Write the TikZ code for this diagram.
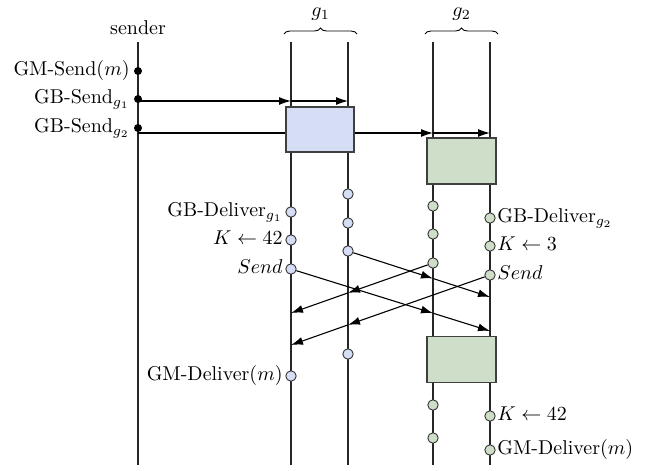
\documentclass[tikz,border=0pt]{standalone}
\usetikzlibrary{arrows.meta,decorations.pathreplacing,calc}
\definecolor{gblue}{RGB}{214,222,246}
\definecolor{ggreen}{RGB}{206,222,200}
\begin{document}
\begin{tikzpicture}[x=0.5pt,y=-0.5pt,
  life/.style={line width=0.55pt,draw=black!85},
  msg/.style={line width=0.55pt,-{Latex[length=6pt,width=4pt]}},
  sdot/.style={circle,fill=black,inner sep=0pt,minimum size=4pt},
  bdot/.style={circle,draw=black!80,fill=gblue,inner sep=0pt,minimum size=5.2pt,line width=0.45pt},
  gdot/.style={circle,draw=black!80,fill=ggreen,inner sep=0pt,minimum size=5.2pt,line width=0.45pt},
  bbox/.style={draw=black!75,fill=gblue,inner sep=0pt,minimum width=34pt,minimum height=22.5pt,line width=0.55pt},
  gbox/.style={draw=black!75,fill=ggreen,inner sep=0pt,minimum width=34.5pt,minimum height=23pt,line width=0.55pt},
  ll/.style={anchor=mid east,inner sep=0pt},
  rl/.style={anchor=mid west,inner sep=0pt},
  gbrace/.style={decorate,decoration={brace,amplitude=3pt},line width=0.45pt}
]
\useasboundingbox (0,0) rectangle (662,470);
% lifelines
\coordinate (sT) at (138,42);  \coordinate (sB) at (138,465);
\coordinate (aT) at (291,42);  \coordinate (aB) at (291,465);
\coordinate (bT) at (348,42);  \coordinate (bB) at (348,465);
\coordinate (cT) at (433,42);  \coordinate (cB) at (433,465);
\coordinate (dT) at (490,42);  \coordinate (dB) at (490,465);
\draw[life] (sT) -- (sB);
\draw[life] (aT) -- (aB);
\draw[life] (bT) -- (bB);
\draw[life] (cT) -- (cB);
\draw[life] (dT) -- (dB);
% headers
\node (snd) at (138,28) {sender};
\draw[gbrace] (284,34) -- (357,34);
\draw[gbrace] (425,34) -- (498,34);
\node (g1) at (320.5,14) {$g_1$};
\node (g2) at (461.5,14) {$g_2$};
% sender events
\node[sdot] (m0) at (138,71) {};
\node[sdot] (m1) at (138,99) {};
\node[sdot] (m2) at (138,128) {};
\node[ll] (lm0) at ($(m0.center)+(-8,0)$) {GM-Send$(m)$};
\node[ll] (lm1) at ($(m1.center)+(-8,0)$) {GB-Send$_{g_1}$};
\node[ll] (lm2) at ($(m2.center)+(-8,0)$) {GB-Send$_{g_2}$};
% broadcast messages
\coordinate (a1) at (138,101);
\coordinate (p1) at (291,101);
\coordinate (p2) at (348,101);
\coordinate (a2) at (138,133);
\coordinate (q1) at (433,133);
\coordinate (q2) at (490,133);
\draw[msg] (a1) -- (p1);
\draw[msg] (p1) -- (p2);
\draw[line width=0.55pt] (a2) -- (286,133);
% boxes
\node[bbox] (B1) at (320,129.5) {};
\node[gbox] (G1) at (461.5,161) {};
\node[gbox] (G2) at (461.5,359.5) {};
\draw[msg] (B1.east |- a2) -- (q1);
\draw[msg] (q1) -- (q2);
% dots g1
\node[bdot] (a3) at (291,212) {};
\node[bdot] (a4) at (291,240) {};
\node[bdot] (a5) at (291,269) {};
\node[bdot] (a6) at (291,376) {};
\node[bdot] (b3) at (348,194) {};
\node[bdot] (b4) at (348,223) {};
\node[bdot] (b5) at (348,251) {};
\node[bdot] (b6) at (348,354) {};
% dots g2
\node[gdot] (c3) at (433,206) {};
\node[gdot] (c4) at (433,234) {};
\node[gdot] (c5) at (433,263) {};
\node[gdot] (c6) at (433,405) {};
\node[gdot] (c7) at (433,438) {};
\node[gdot] (d3) at (490,218) {};
\node[gdot] (d4) at (490,246) {};
\node[gdot] (d5) at (490,275) {};
\node[gdot] (d6) at (490,416) {};
\node[gdot] (d7) at (490,450) {};
% labels
\node[ll] (la3) at ($(a3.center)+(-8,0)$) {GB-Deliver$_{g_1}$};
\node[ll] (la4) at ($(a4.center)+(-8,0)$) {$K \leftarrow 42$};
\node[ll] (la5) at ($(a5.center)+(-8,0)$) {$Send$};
\node[ll] (la6) at ($(a6.center)+(-8,0)$) {GM-Deliver$(m)$};
\node[rl] (ld3) at ($(d3.center)+(7,0)$) {GB-Deliver$_{g_2}$};
\node[rl] (ld4) at ($(d4.center)+(7,0)$) {$K \leftarrow 3$};
\node[rl] (ld5) at ($(d5.center)+(7,0)$) {$Send$};
\node[rl] (ld6) at ($(d6.center)+(7,0)$) {$K \leftarrow 42$};
\node[rl] (ld7) at ($(d7.center)+(7,0)$) {GM-Deliver$(m)$};
% cross messages
\coordinate (xA1) at (433,278.5); \coordinate (xA2) at (490,297);
\coordinate (xB1) at (433,313.2); \coordinate (xB2) at (490,331);
\coordinate (xC1) at (348,292.9); \coordinate (xC2) at (291,313);
\coordinate (xD1) at (348,324.9); \coordinate (xD2) at (291,345);
\draw[msg] (b5) -- (xA1);
\draw[msg] (xA1) -- (xA2);
\draw[msg] (a5) -- (xB1);
\draw[msg] (xB1) -- (xB2);
\draw[msg] (c5) -- (xC1);
\draw[msg] (xC1) -- (xC2);
\draw[msg] (d5) -- (xD1);
\draw[msg] (xD1) -- (xD2);
\end{tikzpicture}
\end{document}
